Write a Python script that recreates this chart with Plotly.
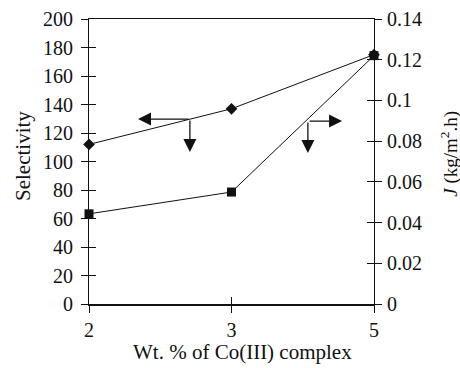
import plotly.graph_objects as go

categories = ["2", "3", "5"]
selectivity = [112, 137, 175]
flux_J = [0.0443, 0.0550, 0.1220]
sel_ticks = list(range(0, 201, 20))
j_ticks = [0, 0.02, 0.04, 0.06, 0.08, 0.1, 0.12, 0.14]
j_ticktext = ["0", "0.02", "0.04", "0.06", "0.08", "0.1", "0.12", "0.14"]

FONT = "Liberation Serif, Times New Roman, serif"
BLACK = "#111111"

fig = go.Figure()
fig.add_trace(go.Scatter(x=categories, y=selectivity, mode="lines+markers",
                         line=dict(color=BLACK, width=1),
                         marker=dict(symbol="diamond", size=9, color=BLACK),
                         showlegend=False, cliponaxis=False, xaxis="x", yaxis="y"))
fig.add_trace(go.Scatter(x=categories, y=flux_J, mode="lines+markers",
                         line=dict(color=BLACK, width=1),
                         marker=dict(symbol="square", size=9, color=BLACK),
                         showlegend=False, cliponaxis=False, xaxis="x", yaxis="y2"))

tickfont = dict(family=FONT, size=20, color=BLACK)
common = dict(showgrid=False, zeroline=False, linecolor=BLACK, tickcolor=BLACK,
              ticklen=7, tickwidth=1)

fig.update_layout(
    width=460, height=368,
    margin=dict(l=89, r=86, t=19, b=64),
    paper_bgcolor="white", plot_bgcolor="white",
    font=dict(family=FONT, color=BLACK),
    xaxis=dict(type="category", categoryarray=categories, range=[0, 2],
               showline=True, linewidth=2, ticks="outside",
               tickfont=tickfont, anchor="y", automargin=False, **common),
    yaxis=dict(range=[0, 200], tickvals=sel_ticks, showline=True, linewidth=1,
               ticks="outside", tickfont=tickfont, anchor="x", automargin=False,
               ticklabelstandoff=4, **common),
    yaxis2=dict(range=[0, 0.14], tickvals=j_ticks, ticktext=j_ticktext,
                overlaying="y", side="right", anchor="x", automargin=False,
                showline=True, linewidth=1, ticks="outside", tickfont=tickfont,
                ticklabelstandoff=1, **common),
    # overlay axes: inside halves of the crossing ticks, and thin top frame line
    xaxis3=dict(range=[0, 2], tickvals=[0, 1, 2], overlaying="x", anchor="y",
                side="bottom", ticks="inside", showticklabels=False, showline=False, **common),
    xaxis4=dict(range=[0, 2], tickvals=[], overlaying="x", anchor="y",
                side="top", ticks="", showticklabels=False, showline=True, linewidth=1,
                showgrid=False, zeroline=False, linecolor=BLACK),
    yaxis3=dict(range=[0, 200], tickvals=sel_ticks, overlaying="y", anchor="x",
                side="left", ticks="inside", showticklabels=False, showline=False, **common),
    yaxis4=dict(range=[0, 0.14], tickvals=j_ticks, overlaying="y", anchor="x",
                side="right", ticks="inside", showticklabels=False, showline=False, **common),
)

# invisible traces so overlay axes render
fig.add_trace(go.Scatter(x=[None], y=[None], xaxis="x3", yaxis="y3", showlegend=False, hoverinfo="skip"))
fig.add_trace(go.Scatter(x=[None], y=[None], xaxis="x3", yaxis="y4", showlegend=False, hoverinfo="skip"))
fig.add_trace(go.Scatter(x=[None], y=[None], xaxis="x4", yaxis="y3", showlegend=False, hoverinfo="skip"))

ann = []
# titles
ann.append(dict(text="Wt. % of Co(III) complex", xref="paper", yref="paper", x=0.54, y=-0.168,
                yanchor="middle", xanchor="center", showarrow=False,
                font=dict(family=FONT, size=21, color=BLACK)))
ann.append(dict(text="Selectivity", xref="paper", yref="paper", x=-0.232, y=0.519,
                textangle=-90, xanchor="center", yanchor="middle", showarrow=False,
                font=dict(family=FONT, size=21, color=BLACK)))
ann.append(dict(text="<i>J</i> (kg/m<sup>2</sup>.h)", xref="paper", yref="paper", x=1.262, y=0.526,
                textangle=-90, xanchor="center", yanchor="middle", showarrow=False,
                font=dict(family=FONT, size=19, color=BLACK)))
# direction arrows
arrow = dict(text="", xref="paper", yref="paper", axref="pixel", ayref="pixel",
             showarrow=True, arrowhead=2, arrowsize=2, arrowwidth=1.3, arrowcolor=BLACK)
ann.append(dict(arrow, x=0.172, y=0.649, ax=52, ay=0))
ann.append(dict(arrow, x=0.354, y=0.533, ax=0, ay=-33))
ann.append(dict(arrow, x=0.888, y=0.642, ax=-34, ay=0))
ann.append(dict(arrow, x=0.768, y=0.530, ax=0, ay=-32))
fig.update_layout(annotations=ann)

fig.write_html("out.html", config={"displayModeBar": False},
               post_script="document.body.style.margin='0';document.body.style.padding='0';")
